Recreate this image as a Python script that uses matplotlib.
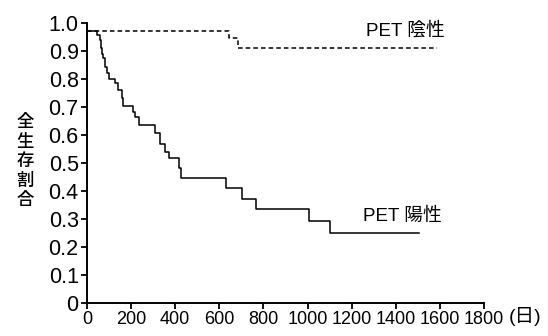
import matplotlib
matplotlib.use("Agg")
import matplotlib.pyplot as plt
import matplotlib.transforms as mtransforms

# PET positive (solid) Kaplan-Meier steps: time (days) and survival after step
pos_days = [0, 47, 57, 62, 67, 74, 80, 90, 100, 127, 142, 158, 165, 210, 218, 238,
            309, 332, 355, 370, 415, 426, 632, 703, 768, 1006, 1101, 1506]
pos_surv = [0.971, 0.955, 0.94, 0.909, 0.89, 0.873, 0.843, 0.819, 0.80, 0.784, 0.76,
            0.73, 0.702, 0.682, 0.664, 0.635, 0.605, 0.569, 0.539, 0.516, 0.48, 0.446,
            0.411, 0.370, 0.336, 0.292, 0.248, 0.248]

# PET negative (dashed)
neg_days = [0, 642, 686, 1589]
neg_surv = [0.971, 0.946, 0.909, 0.909]

x_ticks = [0, 200, 400, 600, 800, 1000, 1200, 1400, 1600, 1800]
y_ticks = [0, 0.1, 0.2, 0.3, 0.4, 0.5, 0.6, 0.7, 0.8, 0.9, 1.0]
y_ticklabels = ["0", "0.1", "0.2", "0.3", "0.4", "0.5", "0.6", "0.7", "0.8", "0.9", "1.0"]

label_neg = "PET 陰性"
label_pos = "PET 陽性"
y_label = "全生存割合"
x_unit = "(日)"

fams = ["Liberation Sans", "Noto Sans CJK JP", "DejaVu Sans"]
plt.rcParams["font.family"] = fams

fig = plt.figure(figsize=(5.48, 3.36), dpi=100)
ax = fig.add_axes([87/548, 1 - 303/336, (484-87)/548, (303-22.7)/336])

ax.step(pos_days, pos_surv, where="post", color="black", lw=1.1)
ax.step(neg_days, neg_surv, where="post", color="black", lw=1.1, linestyle=(0, (3, 2)))

ax.set_xlim(0, 1800)
ax.set_ylim(0, 1.0)
ax.set_xticks(x_ticks)
ax.set_xticklabels([str(t) for t in x_ticks], fontsize=13)
ax.set_yticks(y_ticks)
ax.set_yticklabels(y_ticklabels, fontsize=15.5)

for s in ["top", "right"]:
    ax.spines[s].set_visible(False)
for s in ["left", "bottom"]:
    ax.spines[s].set_linewidth(1.4)
ax.tick_params(axis="both", direction="out", length=4, width=1.3, pad=2, colors="black")

ax.text(1264, 0.972, label_neg, fontsize=13.5, ha="left", va="center", family=fams)
ax.text(1253, 0.308, label_pos, fontsize=13.5, ha="left", va="center", family=fams)

trans = mtransforms.blended_transform_factory(ax.transData, fig.transFigure)
ax.text(1910, 1 - 316.5/336, x_unit, fontsize=14, ha="left", va="center",
        transform=trans, clip_on=False, family=fams)

# stacked vertical y label
for i, ch in enumerate(y_label):
    fig.text(25/548, 1 - (122 + 19.6 * i)/336, ch, fontsize=12.5, ha="center",
             va="center", family=fams, fontweight="medium")

fig.savefig("out.png", dpi=100, facecolor="white")
